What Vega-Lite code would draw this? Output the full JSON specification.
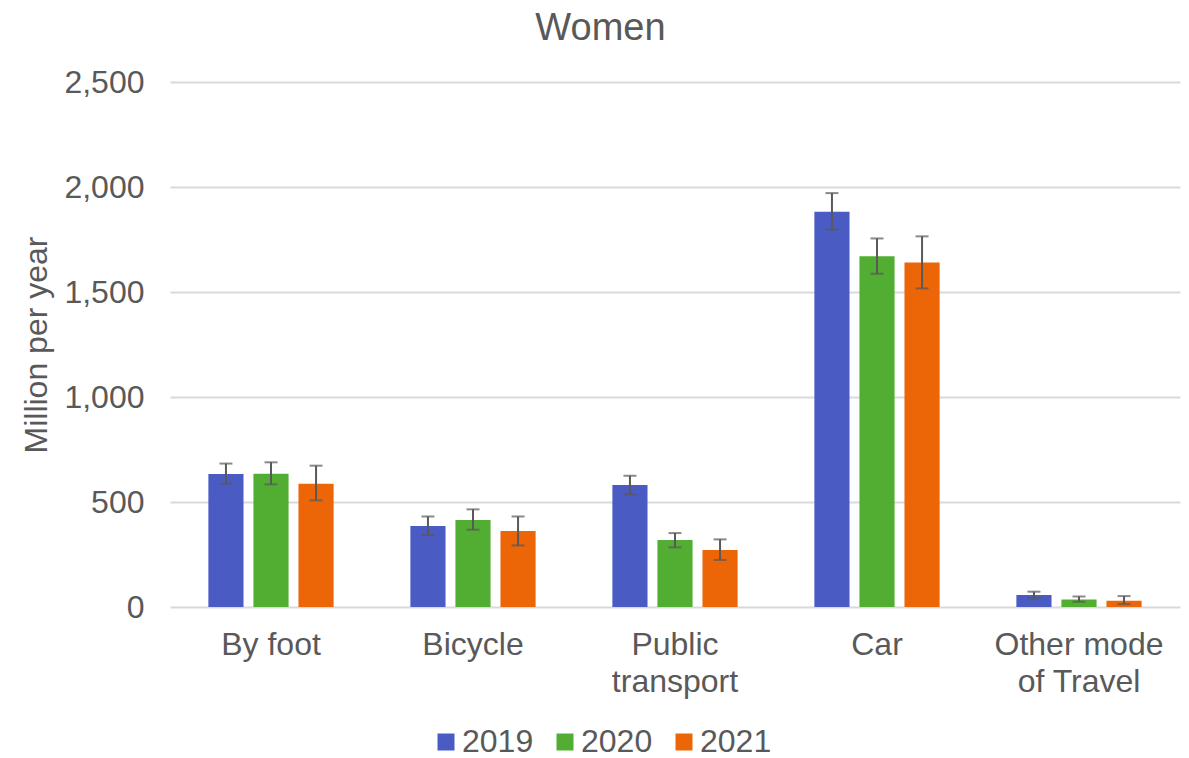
{
  "$schema": "https://vega.github.io/schema/vega-lite/v6.json",
  "width": 1010,
  "height": 525,
  "autosize": {"type": "none"},
  "padding": {"left": 170, "top": 82, "right": 9, "bottom": 151},
  "background": "white",
  "title": {"text": "Women", "fontSize": 38, "font": "Liberation Sans", "fontWeight": "normal", "color": "#595959", "offset": 18, "anchor": "middle", "frame": "bounds"},
  "config": {
    "view": {"stroke": null},
    "font": "Liberation Sans"
  },
  "data": {"values": [
    {"mode": "By foot", "year": "2019", "value": 633, "lo": 587, "hi": 683},
    {"mode": "By foot", "year": "2020", "value": 635, "lo": 584, "hi": 689},
    {"mode": "By foot", "year": "2021", "value": 587, "lo": 508, "hi": 673},
    {"mode": "Bicycle", "year": "2019", "value": 386, "lo": 343, "hi": 431},
    {"mode": "Bicycle", "year": "2020", "value": 414, "lo": 368, "hi": 465},
    {"mode": "Bicycle", "year": "2021", "value": 362, "lo": 293, "hi": 431},
    {"mode": "Public transport", "year": "2019", "value": 581, "lo": 536, "hi": 625},
    {"mode": "Public transport", "year": "2020", "value": 319, "lo": 284, "hi": 352},
    {"mode": "Public transport", "year": "2021", "value": 271, "lo": 224, "hi": 322},
    {"mode": "Car", "year": "2019", "value": 1882, "lo": 1797, "hi": 1971},
    {"mode": "Car", "year": "2020", "value": 1670, "lo": 1587, "hi": 1755},
    {"mode": "Car", "year": "2021", "value": 1640, "lo": 1517, "hi": 1765},
    {"mode": "Other mode of Travel", "year": "2019", "value": 57, "lo": 41, "hi": 73},
    {"mode": "Other mode of Travel", "year": "2020", "value": 36, "lo": 25, "hi": 50},
    {"mode": "Other mode of Travel", "year": "2021", "value": 30, "lo": 14, "hi": 52}
  ]},
  "encoding": {
    "x": {
      "field": "mode", "type": "nominal",
      "sort": ["By foot", "Bicycle", "Public transport", "Car", "Other mode of Travel"],
      "scale": {"paddingInner": 0.38, "paddingOuter": 0.19},
      "axis": {
        "title": null, "domain": false, "ticks": false, "labelAngle": 0,
        "labelFontSize": 32, "labelColor": "#595959", "labelPadding": 22,
        "labelLineHeight": 37, "labelBaseline": "top",
        "labelExpr": "datum.label == 'Public transport' ? ['Public', 'transport'] : datum.label == 'Other mode of Travel' ? ['Other mode', 'of Travel'] : datum.label"
      }
    },
    "xOffset": {"field": "year", "type": "nominal", "scale": {"paddingInner": 0.22, "paddingOuter": 0}}
  },
  "layer": [
    {
      "mark": {"type": "bar"},
      "encoding": {
        "y": {
          "field": "value", "type": "quantitative",
          "scale": {"domain": [0, 2500], "nice": false, "zero": true},
          "axis": {
            "values": [0, 500, 1000, 1500, 2000, 2500], "format": ",.0f",
            "title": "Million per year", "titleFontSize": 32, "titleFontWeight": "normal",
            "titleColor": "#595959", "titlePadding": 10,
            "labelFontSize": 32, "labelColor": "#595959", "labelPadding": 26,
            "domain": false, "ticks": false,
            "gridColor": "#d9d9d9", "gridWidth": 2
          }
        },
        "color": {
          "field": "year", "type": "nominal",
          "scale": {"domain": ["2019", "2020", "2021"], "range": ["#4a5bc4", "#52ae32", "#ec6608"]},
          "legend": {
            "orient": "none", "legendX": 260, "legendY": 644, "title": null, "direction": "horizontal",
            "labelFontSize": 32, "labelColor": "#595959",
            "symbolType": "square", "symbolSize": 289, "symbolStrokeWidth": 0,
            "columnPadding": 15, "labelOffset": 0
          }
        }
      }
    },
    {
      "mark": {"type": "rule", "color": "#595959", "strokeWidth": 2},
      "encoding": {
        "y": {"field": "lo", "type": "quantitative", "scale": {"domain": [0, 2500], "nice": false, "zero": true}},
        "y2": {"field": "hi"}
      }
    },
    {
      "mark": {"type": "tick", "color": "#595959", "thickness": 2, "size": 13},
      "encoding": {"y": {"field": "lo", "type": "quantitative", "scale": {"domain": [0, 2500], "nice": false, "zero": true}}}
    },
    {
      "mark": {"type": "tick", "color": "#595959", "thickness": 2, "size": 13},
      "encoding": {"y": {"field": "hi", "type": "quantitative", "scale": {"domain": [0, 2500], "nice": false, "zero": true}}}
    }
  ]
}
